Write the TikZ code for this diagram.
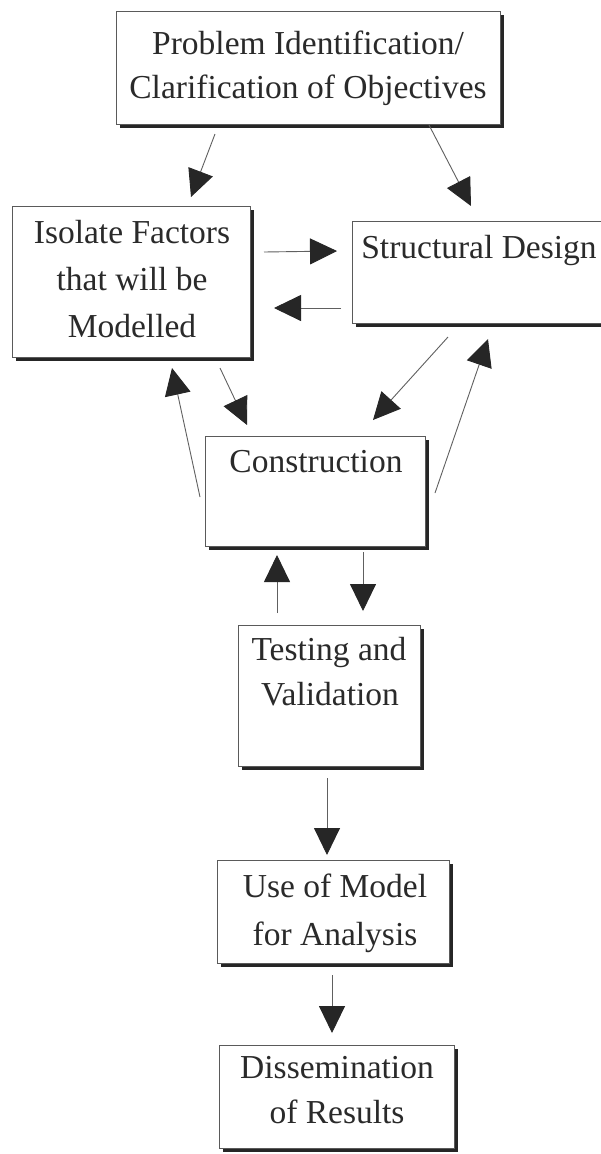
\documentclass[tikz,border=0pt]{standalone}
\usepackage{fontspec}
\setmainfont{Liberation Serif}
\usetikzlibrary{arrows.meta,shadows}
\definecolor{ink}{HTML}{2A2A2A}
\definecolor{frame}{HTML}{5A5A5A}
\definecolor{shade}{HTML}{262626}
\definecolor{wire}{HTML}{606060}
\begin{document}
\begin{tikzpicture}[x=1pt,y=-1pt,
  box/.style={draw=frame, line width=1pt, fill=white, anchor=north west,
    inner sep=0pt, outer sep=0pt,
    general shadow={fill=shade, shadow xshift=4pt, shadow yshift=-4pt}},
  lbl/.style={anchor=base, inner sep=0pt, text=ink,
    font=\fontsize{33.5}{45}\selectfont},
  flow/.style={draw=wire, line width=0.9pt,
    -{Triangle[length=27pt,width=26pt,color=shade]}}]
\useasboundingbox[fill=white] (0,0) rectangle (600,1154);

% process boxes
\node[box, minimum width=384pt, minimum height=113pt] (prob) at (116,11) {};
\node[box, minimum width=238pt, minimum height=151pt] (iso)  at (12,206) {};
\node[box, minimum width=253pt, minimum height=102pt] (str)  at (352,221) {};
\node[box, minimum width=220pt, minimum height=110pt] (con)  at (205,436) {};
\node[box, minimum width=182pt, minimum height=141pt] (test) at (238,625) {};
\node[box, minimum width=232pt, minimum height=103pt] (use)  at (217,860) {};
\node[box, minimum width=235pt, minimum height=103pt] (dis)  at (219,1045) {};

% box texts
\node[lbl] (prob1) at (308,54)  {Problem Identification/};
\node[lbl] (prob2) at (308,98)  {Clarification of Objectives};
\node[lbl] (iso1)  at (132,243) {Isolate Factors};
\node[lbl] (iso2)  at (132,290) {that will be};
\node[lbl] (iso3)  at (132,337) {Modelled};
\node[lbl] (str1)  at (479,258) {Structural Design};
\node[lbl] (con1)  at (316,472) {Construction};
\node[lbl] (test1) at (329,660) {Testing and};
\node[lbl] (test2) at (330,705) {Validation};
\node[lbl] (use1)  at (335,897) {Use of Model};
\node[lbl] (use2)  at (335,945) {for Analysis};
\node[lbl] (dis1)  at (337,1078) {Dissemination};
\node[lbl] (dis2)  at (337,1123) {of Results};

% connector ends
\coordinate (pi-a) at (215,134); \coordinate (pi-b) at (191,197);
\coordinate (ps-a) at (429,125); \coordinate (ps-b) at (471,206);
\coordinate (is-a) at (264,252); \coordinate (is-b) at (337,251);
\coordinate (si-a) at (341,308); \coordinate (si-b) at (274,308);
\coordinate (ic-a) at (220,368); \coordinate (ic-b) at (247,425);
\coordinate (ci-a) at (200,497); \coordinate (ci-b) at (172,368);
\coordinate (sc-a) at (448,337); \coordinate (sc-b) at (373,420);
\coordinate (cs-a) at (435,493); \coordinate (cs-b) at (488,339);
\coordinate (ct-a) at (363,552); \coordinate (ct-b) at (363,611);
\coordinate (tc-a) at (277,613); \coordinate (tc-b) at (277,555);
\coordinate (tu-a) at (327,778); \coordinate (tu-b) at (327,855);
\coordinate (ud-a) at (332,975); \coordinate (ud-b) at (332,1033);

% connectors
\draw[flow] (pi-a) -- (pi-b);
\draw[flow] (ps-a) -- (ps-b);
\draw[flow] (is-a) -- (is-b);
\draw[flow] (si-a) -- (si-b);
\draw[flow] (ic-a) -- (ic-b);
\draw[flow] (ci-a) -- (ci-b);
\draw[flow] (sc-a) -- (sc-b);
\draw[flow] (cs-a) -- (cs-b);
\draw[flow] (ct-a) -- (ct-b);
\draw[flow] (tc-a) -- (tc-b);
\draw[flow] (tu-a) -- (tu-b);
\draw[flow] (ud-a) -- (ud-b);
\end{tikzpicture}
\end{document}
